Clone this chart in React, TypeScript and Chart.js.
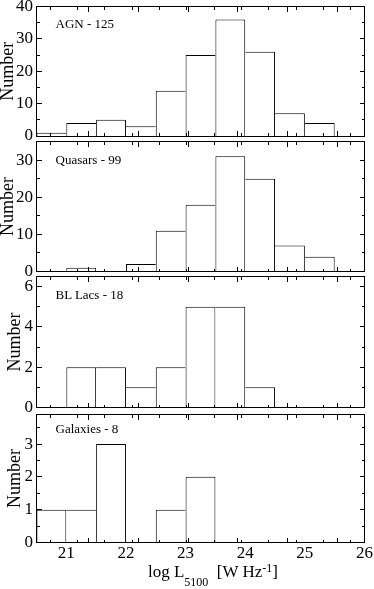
import React, { useEffect, useRef } from "react";
import { Chart, registerables } from "chart.js";

Chart.register(...registerables);

// ---- data ----
const binCenters = [20.75, 21.25, 21.75, 22.25, 22.75, 23.25, 23.75, 24.25, 24.75, 25.25, 25.75];
const agnCounts = [1, 4, 5, 3, 14, 25, 36, 26, 7, 4, 0];
const quasarCounts = [0, 1, 0, 2, 11, 18, 31, 25, 7, 4, 0];
const blLacCounts = [0, 2, 2, 1, 2, 5, 5, 1, 0, 0, 0];
const galaxyCounts = [1, 1, 3, 0, 1, 2, 0, 0, 0, 0, 0];
const panelLabels = ["AGN - 125", "Quasars - 99", "BL Lacs - 18", "Galaxies - 8"];
const yAxisMax = [40, 35, 6.5, 3.9];
const yMajorStep = [10, 10, 2, 1];
const yMinorStep = [5, 5, 1, 0.5];
const xMin = 20.5;
const xMax = 26;
const xMajorStep = 1;
const xMinorStep = 0.5;
const yTitle = "Number";

const seriesList = [agnCounts, quasarCounts, blLacCounts, galaxyCounts];

// ---- layout ----
const W = 374;
const H = 589;
const FONT = "'Liberation Serif', 'Times New Roman', serif";
const PLOT_LEFT = 36.5;
const PLOT_RIGHT = 364.5;
const MAJOR_LEN = 5;
const MINOR_LEN = 3;
const X_LABEL_BOX = 25;
const panelBoxes = [
  { top: 6.5, bottom: 136, canvasTop: 0, canvasBottom: 146, labelBaseline: 28, titlePad: 0 },
  { top: 141.5, bottom: 271.5, canvasTop: 131, canvasBottom: 281, labelBaseline: 163.5, titlePad: 0 },
  { top: 276.5, bottom: 407.5, canvasTop: 266, canvasBottom: 417, labelBaseline: 299, titlePad: 7 },
  { top: 414.5, bottom: 542.5, canvasTop: 404, canvasBottom: H, labelBaseline: 433.3, titlePad: 7 },
];

function Panel({ idx }: { idx: number }) {
  const ref = useRef<HTMLCanvasElement>(null);
  const box = panelBoxes[idx];
  const h = box.canvasBottom - box.canvasTop;

  useEffect(() => {
    const counts = seriesList[idx];
    const isLast = idx === panelBoxes.length - 1;
    const tickFont = { family: FONT, size: 17 };
    const yMax = yAxisMax[idx];
    const plotH = box.bottom - box.top;
    const xUnitPx = (PLOT_RIGHT - PLOT_LEFT) / (xMax - xMin);
    const yUnitPx = plotH / yMax;
    const xLabelBox = isLast ? X_LABEL_BOX : 0;

    const fixV = (w: number) => (scale: any) => {
      scale.width = w;
      scale.paddingTop = 0;
      scale.paddingBottom = 0;
    };
    const fixH = (hh: number) => (scale: any) => {
      scale.height = hh;
      scale.paddingLeft = 0;
      scale.paddingRight = 0;
    };
    const noGrid = { display: false, drawOnChartArea: false, drawTicks: false };
    const borderOn = { display: true, color: "#000", width: 1, z: 1 };

    // frame axes: borders + labels
    const frameX = (position: string, labels: boolean, hh: number) => ({
      type: "linear",
      axis: "x",
      position,
      min: xMin,
      max: xMax,
      offset: false,
      grid: { ...noGrid, offset: false },
      border: borderOn,
      ticks: {
        stepSize: xMajorStep,
        includeBounds: false,
        display: labels,
        autoSkip: false,
        maxRotation: 0,
        minRotation: 0,
        font: tickFont,
        color: "#000",
        padding: 1,
      },
      afterFit: fixH(hh),
    });
    const frameY = (position: string, labels: boolean, w: number) => ({
      type: "linear",
      axis: "y",
      position,
      min: 0,
      max: yMax,
      grid: noGrid,
      border: borderOn,
      ticks: {
        stepSize: yMajorStep[idx],
        includeBounds: false,
        display: labels,
        autoSkip: false,
        font: tickFont,
        color: "#000",
        padding: 3.5,
      },
      afterFit: fixV(w),
    });

    // tick axes: placed inside the plot, marks pointing inward
    const tickGrid = (len: number) => ({
      display: true,
      drawOnChartArea: false,
      drawTicks: true,
      tickLength: len,
      offset: false,
      color: "#000",
      tickColor: "#000",
      lineWidth: 1,
      tickWidth: 1,
      z: 1,
    });
    const tickX = (atY: number, step: number, len: number) => ({
      type: "linear",
      axis: "x",
      position: { y: atY },
      min: xMin,
      max: xMax,
      grid: tickGrid(len),
      border: { display: false },
      ticks: { stepSize: step, includeBounds: false, display: false, autoSkip: false },
    });
    const tickY = (atX: number, step: number, len: number) => ({
      type: "linear",
      axis: "y",
      position: { x: atX },
      min: 0,
      max: yMax,
      grid: tickGrid(len),
      border: { display: false },
      ticks: { stepSize: step, includeBounds: false, display: false, autoSkip: false },
    });

    const yMain: any = frameY("left", true, PLOT_LEFT);
    yMain.title = {
      display: true,
      text: yTitle,
      color: "#000",
      font: { family: FONT, size: 18, lineHeight: 0.9 },
      padding: { top: box.titlePad, bottom: 0 },
    };

    const chart = new Chart(ref.current as HTMLCanvasElement, {
      type: "bar",
      data: {
        datasets: [
          {
            data: binCenters.map((x, i) => ({ x, y: counts[i] })),
            backgroundColor: "#ffffff",
            borderColor: "#000000",
            borderSkipped: false,
            inflateAmount: 0,
            barPercentage: 1,
            categoryPercentage: 1,
            borderWidth: (ctx: any) => {
              if (ctx.type !== "data") return 1;
              const i = ctx.dataIndex;
              const v = counts[i];
              if (!v) return 0;
              const prev = i > 0 ? counts[i - 1] : 0;
              const next = i < counts.length - 1 ? counts[i + 1] : 0;
              return { top: 1, bottom: 0, left: v > prev ? 1 : 0, right: v >= next ? 1 : 0 };
            },
          } as any,
        ],
      },
      options: {
        animation: false,
        responsive: false,
        devicePixelRatio: 1,
        events: [],
        layout: {
          autoPadding: false,
          padding: {
            top: box.top - box.canvasTop,
            bottom: box.canvasBottom - box.bottom - xLabelBox,
            left: 0,
            right: W - PLOT_RIGHT,
          },
        },
        plugins: { legend: { display: false }, tooltip: { enabled: false }, title: { display: false } },
        scales: {
          x: frameX("bottom", isLast, xLabelBox),
          xTop: frameX("top", false, 0),
          y: yMain,
          yRight: frameY("right", false, 0),
          xTickTopMajor: tickX(yMax, xMajorStep, MAJOR_LEN),
          xTickTopMinor: tickX(yMax, xMinorStep, MINOR_LEN),
          xTickBotMajor: tickX(MAJOR_LEN / yUnitPx, xMajorStep, MAJOR_LEN),
          xTickBotMinor: tickX(MINOR_LEN / yUnitPx, xMinorStep, MINOR_LEN),
          yTickLeftMajor: tickY(xMin + (MAJOR_LEN + 0.5) / xUnitPx, yMajorStep[idx], MAJOR_LEN),
          yTickLeftMinor: tickY(xMin + (MINOR_LEN + 0.5) / xUnitPx, yMinorStep[idx], MINOR_LEN),
          yTickRightMajor: tickY(xMax, yMajorStep[idx], MAJOR_LEN),
          yTickRightMinor: tickY(xMax, yMinorStep[idx], MINOR_LEN),
        } as any,
      } as any,
    });
    return () => chart.destroy();
  }, [idx]);

  return (
    <canvas
      ref={ref}
      width={W}
      height={h}
      style={{ position: "absolute", left: 0, top: box.canvasTop, width: W, height: h }}
    />
  );
}

export default function App() {
  return (
    <div style={{ position: "absolute", left: 0, top: 0, width: W, height: H, background: "#fff", overflow: "hidden" }}>
      {panelBoxes.map((_, i) => (
        <Panel key={i} idx={i} />
      ))}
      {panelBoxes.map((b, i) => (
        <div
          key={"l" + i}
          style={{
            position: "absolute",
            left: 55.5,
            top: b.labelBaseline - 10.9,
            fontFamily: FONT,
            fontSize: 13,
            lineHeight: "13px",
            whiteSpace: "nowrap",
            color: "#000",
          }}
        >
          {panelLabels[i]}
        </div>
      ))}
      <div
        style={{
          position: "absolute",
          left: 148,
          top: 563,
          fontFamily: FONT,
          fontSize: 17,
          lineHeight: "17px",
          whiteSpace: "nowrap",
          color: "#000",
        }}
      >
        log L
        <span style={{ fontSize: 12, position: "relative", top: 8.5 }}>5100</span>
        {"\u00a0\u00a0[W Hz"}
        <span style={{ fontSize: 12, position: "relative", top: -5 }}>-1</span>
        ]
      </div>
    </div>
  );
}
